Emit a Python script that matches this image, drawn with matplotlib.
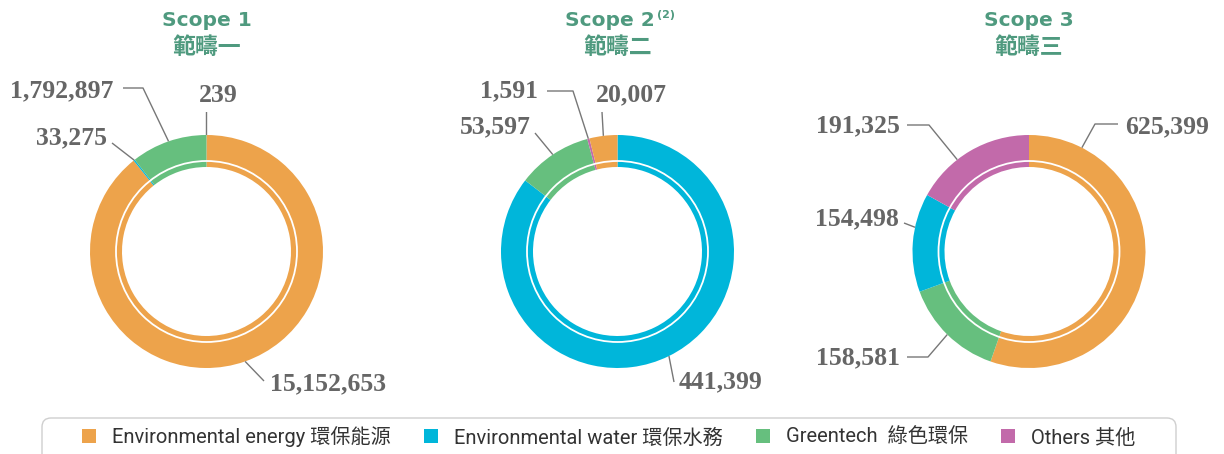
import matplotlib
matplotlib.use('Agg')
import matplotlib.pyplot as plt
from matplotlib.patches import Circle, FancyBboxPatch, Patch
import numpy as np

# ---------------- data ----------------
categories = ['energy', 'water', 'green', 'others']
category_labels = ['Environmental energy 環保能源', 'Environmental water 環保水務',
                   'Greentech  綠色環保', 'Others 其他']
titles = ['Scope 1', 'Scope 2', 'Scope 3']
titles_zh = ['範疇一', '範疇二', '範疇三']

scope1_order = ['energy', 'water', 'green', 'others']
scope1_values = [15152653, 33275, 1792897, 239]
scope2_order = ['water', 'green', 'others', 'energy']
scope2_values = [441399, 53597, 1591, 20007]
scope3_order = ['energy', 'green', 'water', 'others']
scope3_values = [625399, 158581, 154498, 191325]

# ---------------- style ----------------
colors = {'energy': '#EDA34B', 'water': '#00B6DA', 'green': '#66BF7E', 'others': '#C26AAA'}
title_color = '#4F9A7F'
label_color = '#666666'
line_color = '#777777'

W, H = 1224, 454
fig = plt.figure(figsize=(W / 100, H / 100), dpi=100)
ax = fig.add_axes([0, 0, 1, 1])

R_OUT, RING_W, R_WHITE = 116.5, 32, 90.5
centers = [(206.5, 251.5), (617.5, 251.5), (1029, 251.5)]  # pixel, from top

def Y(y):
    return H - y

# label layout per scope, per wedge (same order as values):
# (text x, text center y, ha, extra line points (from text side), anchor angle override)
layouts = [
    [  # scope 1
        (270, 382, 'left', [(264, 381)], None),
        (107, 136, 'right', [(112, 143)], None),
        (113, 89, 'right', [(123, 88), (143, 88)], None),
        (218, 93, 'center', [(206.5, 112)], None),
    ],
    [  # scope 2
        (679, 380, 'left', [(674, 382)], None),
        (531, 125, 'right', [(535, 133)], None),
        (538, 89, 'right', [(547, 91), (573, 91)], None),
        (631, 93, 'center', [(602, 112)], None),
    ],
    [  # scope 3
        (1125, 125, 'left', [(1118, 124), (1095, 124)], 27),
        (900, 356, 'right', [(907, 357), (928, 357)], None),
        (899, 217, 'right', [(904, 223)], 282),
        (900, 124, 'right', [(907, 125), (929, 125)], 322),
    ],
]

serif_font = dict(family='Liberation Serif', weight='bold', size=18.5)

scopes = [(scope1_order, scope1_values), (scope2_order, scope2_values), (scope3_order, scope3_values)]
for i, (order, vals) in enumerate(scopes):
    cx, cy = centers[i]
    ax.pie(vals, colors=[colors[k] for k in order], startangle=90, counterclock=False,
           radius=R_OUT, center=(cx, Y(cy)),
           wedgeprops=dict(width=RING_W, linewidth=0))
    ax.add_patch(Circle((cx, Y(cy)), R_WHITE, fill=False, ec='white', lw=1.3, zorder=5))

    total = float(sum(vals))
    cum = 0.0
    for j, v in enumerate(vals):
        mid = 360.0 * (cum + v / 2.0) / total
        cum += v
        tx, ty, ha, pts, override = layouts[i][j]
        ang = np.deg2rad(override if override is not None else mid)
        axp = cx + R_OUT * np.sin(ang)
        ayp = cy - R_OUT * np.cos(ang)
        xs = [p[0] for p in pts] + [axp]
        ys = [Y(p[1]) for p in pts] + [Y(ayp)]
        ax.plot(xs, ys, color=line_color, lw=1.0, solid_capstyle='butt')
        ax.text(tx, Y(ty + 8.5), f'{v:,}', ha=ha, va='baseline', color=label_color,
                **serif_font)

    # titles
    tfam = ['DejaVu Sans', 'Noto Sans CJK TC']
    if i == 1:
        ax.text(cx - 8, Y(20), titles[i], ha='center', va='center', color=title_color,
                family=tfam, weight='bold', size=14.5)
        ax.text(cx + 39, Y(15), '(2)', ha='left', va='center', color=title_color,
                family=tfam, weight='bold', size=8)
    else:
        ax.text(cx, Y(20), titles[i], ha='center', va='center', color=title_color,
                family=tfam, weight='bold', size=14.5)
    ax.text(cx, Y(48), titles_zh[i], ha='center', va='center', color=title_color,
            family=['Noto Sans CJK TC', 'DejaVu Sans'], weight='bold', size=16.5)

# legend box
box = FancyBboxPatch((42, -20), 1176 - 42, Y(418) + 20,
                     boxstyle='round,pad=0,rounding_size=9',
                     fc='white', ec='#CFCFCF', lw=1.0, zorder=0)
ax.add_patch(box)

handles = [Patch(facecolor=colors[k], edgecolor='none') for k in categories]
leg = ax.legend(handles, category_labels, ncol=4, frameon=False,
                loc='center left', bbox_to_anchor=(82, Y(437)),
                bbox_transform=ax.transData, borderpad=0, borderaxespad=0,
                handlelength=0.7, handleheight=0.7, handletextpad=0.8,
                columnspacing=1.63,
                prop=dict(family=['Roboto', 'Noto Sans CJK TC'], size=14.5))
for txt in leg.get_texts():
    txt.set_color('#333333')

ax.set_xlim(0, W)
ax.set_ylim(0, H)
ax.set_aspect('auto')
ax.axis('off')

fig.savefig('out.png', dpi=100)
